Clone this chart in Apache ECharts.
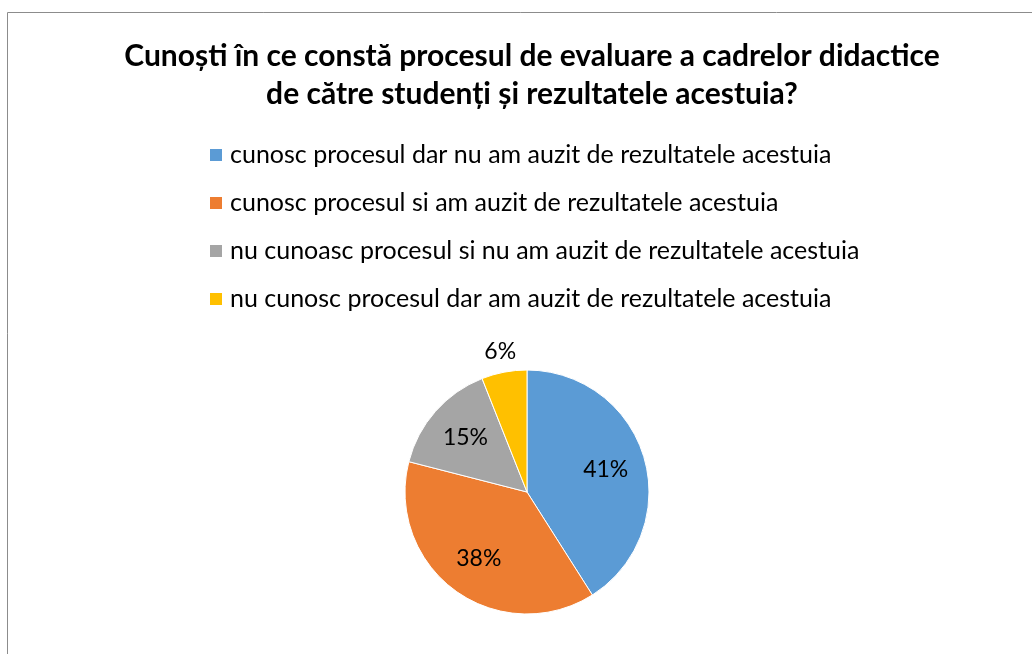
<!DOCTYPE html>
<html>
<head>
<meta charset="utf-8">
<script src="https://cdn.jsdelivr.net/npm/echarts@6/dist/echarts.min.js"></script>
<style>
  html, body { margin: 0; padding: 0; background: #fff; }
  #chart { width: 1032px; height: 654px; }
</style>
</head>
<body>
<div id="chart"></div>
<script>
// datele graficului
var titleText = 'Cunoști în ce constă procesul de evaluare a cadrelor didactice\nde către studenți și rezultatele acestuia?';
var categories = [
  'cunosc procesul dar nu am auzit de rezultatele acestuia',
  'cunosc procesul si am auzit de rezultatele acestuia',
  'nu cunoasc procesul si nu am auzit de rezultatele acestuia',
  'nu cunosc procesul dar am auzit de rezultatele acestuia'
];
var values = [41, 38, 15, 6];
var colors = ['#5B9BD5', '#ED7D31', '#A5A5A5', '#FFC000'];

var myChart = echarts.init(document.getElementById('chart'));

var labelFont = { fontFamily: 'Lato', fontSize: 23, color: '#000' };

// felia principala, fara etichete
var pieData = categories.map(function (name, i) {
  return { name: name, value: values[i] };
});

// pie transparent pentru etichetele din interior (felii mari)
var innerLabelData = categories.map(function (name, i) {
  return { name: name, value: values[i], label: { show: values[i] >= 10 } };
});

// pie transparent pentru eticheta de deasupra (felia mica)
var outerLabelData = categories.map(function (name, i) {
  return { name: name, value: values[i], label: { show: values[i] < 10 } };
});

function labelSeries(name, radius, data) {
  return {
    name: name,
    type: 'pie',
    center: [527, 492],
    radius: radius,
    startAngle: 90,
    clockwise: true,
    silent: true,
    legendHoverLink: false,
    data: data,
    itemStyle: { color: 'rgba(0,0,0,0)', borderWidth: 0 },
    label: echarts.util.extend({ position: 'inside', formatter: '{d}%' }, labelFont),
    labelLine: { show: false }
  };
}

var option = {
  color: colors,
  animation: false,
  graphic: [{
    type: 'rect',
    shape: { x: 7.5, y: 12.5, width: 1100, height: 700 },
    style: { fill: 'none', stroke: '#8c8c8c', lineWidth: 1 },
    silent: true
  }],
  title: {
    text: titleText,
    left: 527,
    top: 32,
    textAlign: 'center',
    textStyle: {
      fontFamily: 'Lato',
      fontSize: 30,
      fontWeight: 'bold',
      lineHeight: 38,
      color: '#000'
    }
  },
  legend: {
    orient: 'vertical',
    left: 203,
    top: 137,
    icon: 'rect',
    itemWidth: 14,
    itemHeight: 14,
    itemGap: 22,
    selectedMode: false,
    data: categories,
    textStyle: {
      fontFamily: 'Lato',
      fontSize: 25,
      lineHeight: 26,
      color: '#000',
      padding: [0, 0, 0, 2]
    }
  },
  series: [{
    name: 'procesul de evaluare',
    type: 'pie',
    center: [527, 492],
    radius: [0, 122],
    startAngle: 90,
    clockwise: true,
    silent: true,
    data: pieData,
    itemStyle: { borderColor: '#fff', borderWidth: 1 },
    label: { show: false },
    labelLine: { show: false }
  },
    labelSeries('etichete interior', [36, 122], innerLabelData),
    labelSeries('eticheta exterior', [132, 148], outerLabelData)
  ]
};

myChart.setOption(option);
</script>
</body>
</html>
